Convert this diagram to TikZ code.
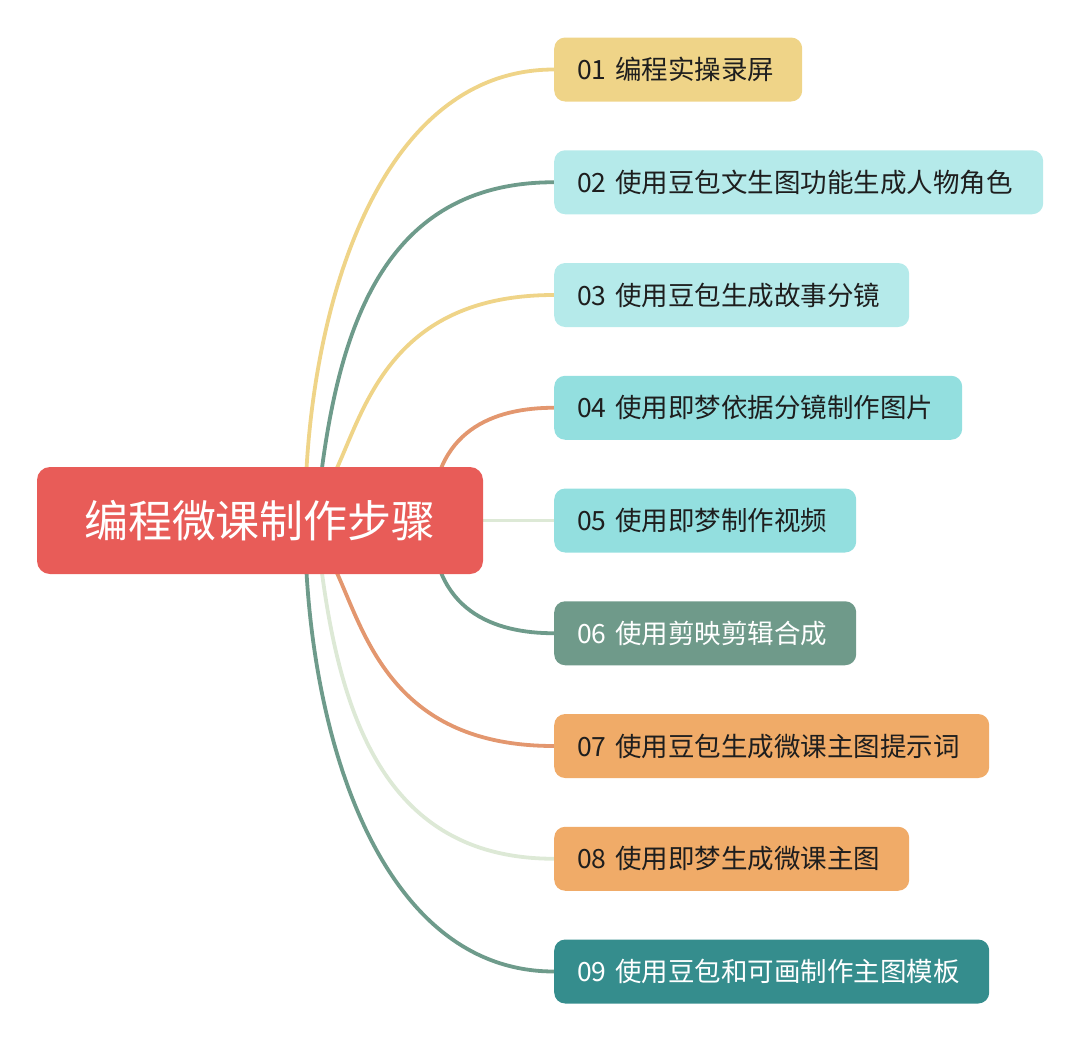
\documentclass[tikz,border=0pt]{standalone}
\usepackage{fontspec}
\newfontfamily\cjk{Noto Sans CJK SC}
\usetikzlibrary{backgrounds}
\definecolor{cred}{HTML}{E85C58}
\definecolor{cyel}{HTML}{EFD488}
\definecolor{ccyanlt}{HTML}{B5EAEA}
\definecolor{ccyan}{HTML}{93DFDF}
\definecolor{cgreen}{HTML}{6F9A8A}
\definecolor{corangebox}{HTML}{F0AB68}
\definecolor{cteal}{HTML}{358D8D}
\definecolor{lyel}{HTML}{EFD488}
\definecolor{lgreen}{HTML}{6E9B8B}
\definecolor{lorange}{HTML}{E3976F}
\definecolor{lpale}{HTML}{DDE9D6}
\definecolor{txtdark}{HTML}{1E1E1E}
\begin{document}
\begin{tikzpicture}[x=1pt,y=-1pt,
  stepbox/.style={rounded corners=11pt, anchor=west, minimum height=64pt,
    inner xsep=23pt, inner ysep=0pt, align=left,
    font=\cjk\fontsize{26.5}{30}\selectfont, text=txtdark},
  link/.style={line width=3.8pt, line join=round}]
\useasboundingbox (0,0) rectangle (1080,1042);
\node[fill=cred, rounded corners=13pt, minimum width=446pt, minimum height=107pt,
  inner sep=0pt, text=white, font=\cjk\fontsize{44}{50}\selectfont] (root) at (260,520.5) {编程微课制作步骤};
\node[stepbox, fill=cyel, text width=202pt] (n01) at (554,69.5) {01 编程实操录屏};
\node[stepbox, fill=ccyanlt, text width=443pt] (n02) at (554,182.25) {02 使用豆包文生图功能生成人物角色};
\node[stepbox, fill=ccyanlt, text width=309pt] (n03) at (554,295) {03 使用豆包生成故事分镜};
\node[stepbox, fill=ccyan, text width=362pt] (n04) at (554,407.75) {04 使用即梦依据分镜制作图片};
\node[stepbox, fill=ccyan, text width=256pt] (n05) at (554,520.5) {05 使用即梦制作视频};
\node[stepbox, fill=cgreen, text width=256pt, text=white] (n06) at (554,633.25) {06 使用剪映剪辑合成};
\node[stepbox, fill=corangebox, text width=389pt] (n07) at (554,746) {07 使用豆包生成微课主图提示词};
\node[stepbox, fill=corangebox, text width=309pt] (n08) at (554,858.75) {08 使用即梦生成微课主图};
\node[stepbox, fill=cteal, text width=389pt, text=white] (n09) at (554,971.5) {09 使用豆包和可画制作主图模板};
\coordinate (c01) at (305,520.5);
\coordinate (c02) at (317.7,500);
\coordinate (e02) at (322,468);
\coordinate (c03) at (324.7,495.3);
\coordinate (e03) at (337,468);
\coordinate (c04) at (432,520.5);
\coordinate (c06) at (432,520.5);
\coordinate (c07) at (324.7,545.7);
\coordinate (e07) at (337,573);
\coordinate (c08) at (317.7,541);
\coordinate (e08) at (322,573);
\coordinate (c09) at (305,520.5);
\begin{scope}[on background layer]
\draw[link, lyel] (c01) .. controls (305,320) and (374,69.5) .. (n01.west);
\draw[link, lgreen] (c02) -- (e02) .. controls (343,310) and (394,182.25) .. (n02.west);
\draw[link, lyel] (c03) -- (e03) .. controls (366,404) and (394,295) .. (n03.west);
\draw[link, lorange] (c04) .. controls (432,430) and (494,407.75) .. (n04.west);
\draw[link, lpale] (root.east) -- (n05.west);
\draw[link, lgreen] (c06) .. controls (432,611) and (494,633.25) .. (n06.west);
\draw[link, lorange] (c07) -- (e07) .. controls (366,637) and (394,746) .. (n07.west);
\draw[link, lpale] (c08) -- (e08) .. controls (343,731) and (394,858.75) .. (n08.west);
\draw[link, lgreen] (c09) .. controls (305,721) and (374,971.5) .. (n09.west);
\end{scope}
\end{tikzpicture}
\end{document}
